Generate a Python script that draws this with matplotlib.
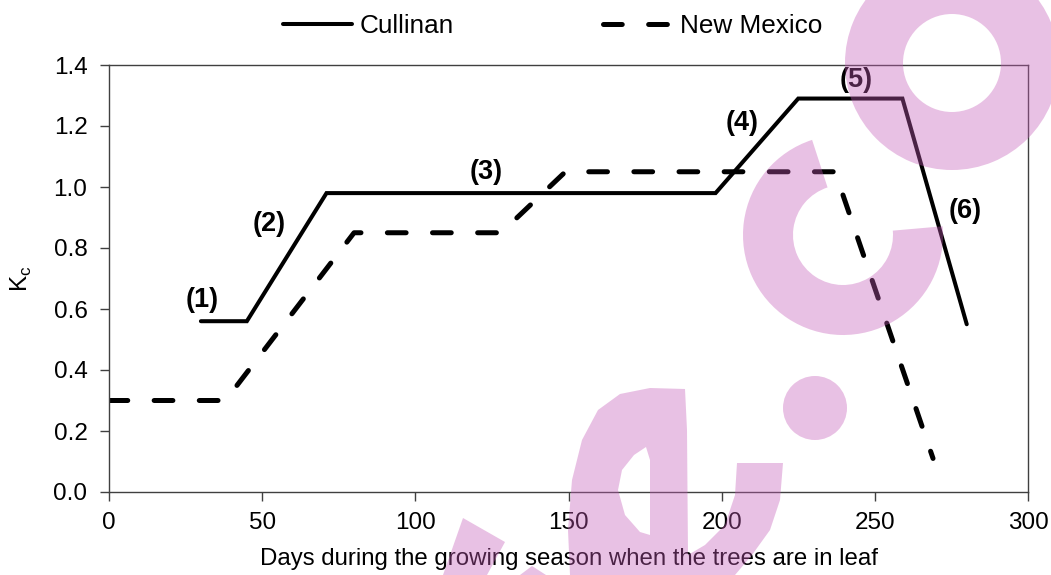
import matplotlib
matplotlib.use("Agg")
import matplotlib.pyplot as plt
from matplotlib.patches import Wedge, Circle, Polygon, PathPatch
from matplotlib.path import Path

plt.rcParams["font.family"] = ["Liberation Sans", "DejaVu Sans"]
plt.rcParams["lines.scale_dashes"] = False

# Crop coefficient curves (day of season, Kc)
cullinan_days = [30, 45, 71, 198, 225, 259, 280]
cullinan_kc = [0.56, 0.56, 0.98, 0.98, 1.29, 1.29, 0.55]

nm_days = [0, 38, 80, 128, 149, 237, 269]
nm_kc = [0.30, 0.30, 0.85, 0.85, 1.05, 1.05, 0.11]

# Growth stage labels
stage_labels = ["(1)", "(2)", "(3)", "(4)", "(5)", "(6)"]
stage_days = [30.3, 52.4, 123, 206.6, 243.8, 279.5]
stage_kc = [0.63, 0.88, 1.05, 1.21, 1.35, 0.92]

x_ticks = [0, 50, 100, 150, 200, 250, 300]
y_ticks = [0.0, 0.2, 0.4, 0.6, 0.8, 1.0, 1.2, 1.4]

W, H = 1051, 575
fig = plt.figure(figsize=(W / 100, H / 100), dpi=100)
ax = fig.add_axes([109 / W, (H - 492) / H, (1028 - 109) / W, (492 - 65) / H])

ax.plot(cullinan_days, cullinan_kc, color="black", lw=2.9,
        solid_joinstyle="miter", solid_capstyle="round", label="Cullinan")
ax.plot(nm_days, nm_kc, color="black", lw=3.6, dashes=(13.5, 19),
        dash_capstyle="round", label="New Mexico")

for lab, d, k in zip(stage_labels, stage_days, stage_kc):
    ax.text(d, k, lab, ha="center", va="center", fontsize=19.5,
            fontweight="bold", color="black")

ax.set_xlim(0, 300)
ax.set_ylim(0, 1.4)
ax.set_xticks(x_ticks)
ax.set_yticks(y_ticks)
ax.set_yticklabels([f"{v:.1f}" for v in y_ticks])
ax.tick_params(direction="out", length=6.5, width=1, color="#404040",
               labelsize=17.5)
ax.tick_params(axis="x", pad=8)
ax.tick_params(axis="y", pad=9)
for sp in ax.spines.values():
    sp.set_color("#404040")
    sp.set_linewidth(1)

ax.set_xlabel("Days during the growing season when the trees are in leaf",
              fontsize=17.3, labelpad=10)
ax.set_ylabel(r"K$_\mathregular{c}$", fontsize=17.5, labelpad=14)

fig.legend(loc="upper center", bbox_to_anchor=(0.526, 1.017), ncol=2,
           frameon=False, fontsize=18.8, handlelength=2.65, handletextpad=0.3,
           columnspacing=5.7)

# Translucent watermark overlay
ov = fig.add_axes([0, 0, 1, 1], zorder=10)
ov.set_xlim(0, W)
ov.set_ylim(H, 0)
ov.axis("off")
ov.patch.set_alpha(0)
wm = dict(facecolor="#c55cb8", alpha=0.38, lw=0)

ov.add_patch(Wedge((952, 63), 107, 0, 360, width=58, **wm))
ov.add_patch(Wedge((843, 235), 100, -5, 252, width=50, **wm))
ov.add_patch(Circle((815, 408), 32, **wm))

outer = [(570, 575), (568, 530), (572, 480), (582, 440), (598, 410),
         (620, 394), (650, 388), (685, 389), (687, 430), (688, 555),
         (705, 545), (725, 525), (735, 495), (737, 463), (783, 463),
         (780, 500), (770, 530), (752, 555), (735, 575)]
hole = [(646, 447), (634, 455), (622, 470), (618, 490), (625, 515),
        (640, 532), (650, 535), (650, 460)]
verts = outer + [outer[0]] + hole + [hole[0]]
codes = ([Path.MOVETO] + [Path.LINETO] * (len(outer) - 1) + [Path.CLOSEPOLY]
         + [Path.MOVETO] + [Path.LINETO] * (len(hole) - 1) + [Path.CLOSEPOLY])
ov.add_patch(PathPatch(Path(verts, codes), **wm))

ov.add_patch(Polygon([(463, 518), (505, 542), (487, 575), (443, 575)], **wm))
ov.add_patch(Polygon([(520, 575), (532, 566), (546, 575)], **wm))

fig.savefig("out.png", dpi=100)
